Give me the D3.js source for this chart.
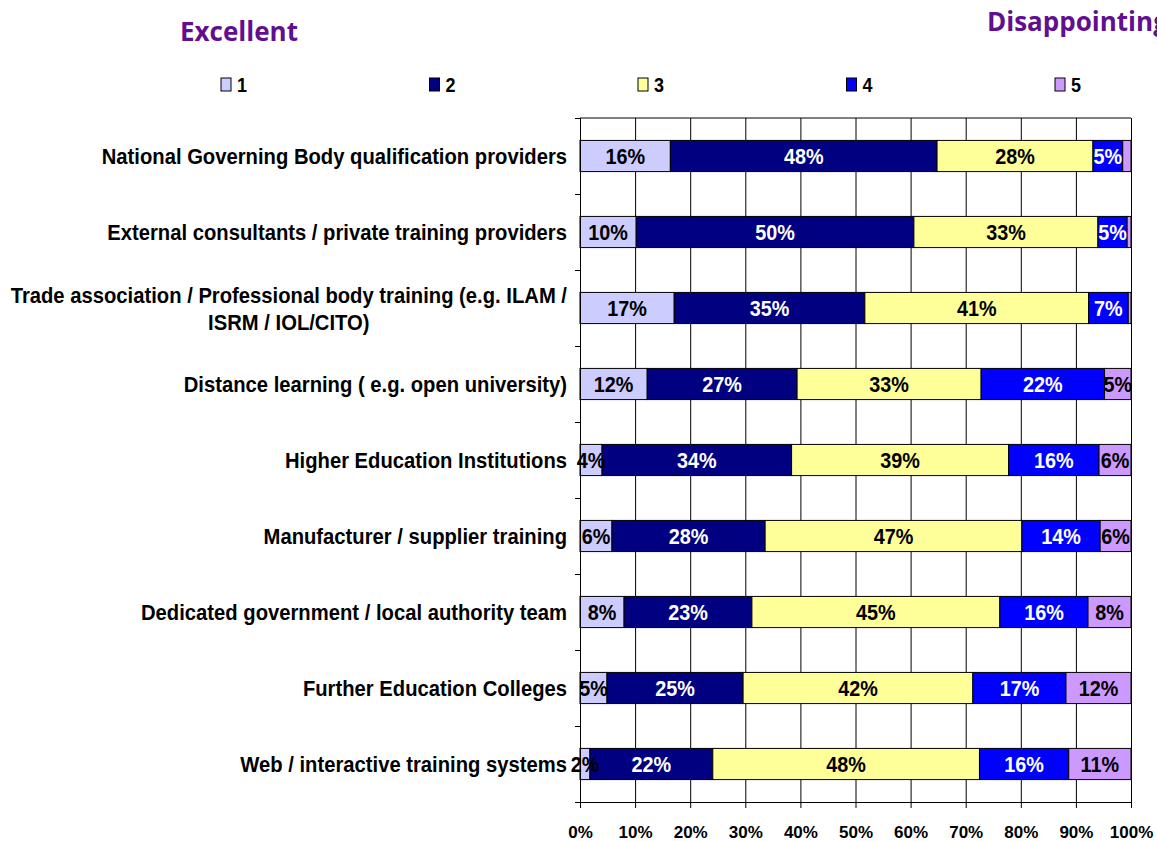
<!DOCTYPE html>
<html>
<head>
<meta charset="utf-8">
<script src="https://cdn.jsdelivr.net/npm/d3@7"></script>
<style>
  body { margin: 0; background: #fff; }
  svg text { font-family: "Liberation Sans", Arial, sans-serif; font-weight: bold; }
  svg text.title { font-family: "Open Sans", Lato, sans-serif; }
</style>
</head>
<body>
<div id="container"></div>
<script>
const categories = [
  "National Governing Body qualification providers",
  "External consultants / private training providers",
  "Trade association / Professional body training (e.g. ILAM / ISRM / IOL/CITO)",
  "Distance learning ( e.g. open university)",
  "Higher Education Institutions",
  "Manufacturer / supplier training",
  "Dedicated government / local authority team",
  "Further Education Colleges",
  "Web / interactive training systems"
];
const levels = ["1", "2", "3", "4", "5"];
const rating1 = [16.4, 10.2, 17.1, 12.2, 4.0, 5.8, 8.0, 4.9, 1.8];
const rating2 = [48.4, 50.4, 34.6, 27.2, 34.4, 27.8, 23.2, 24.7, 22.3];
const rating3 = [28.3, 33.4, 40.6, 33.4, 39.4, 46.6, 45.0, 41.7, 48.4];
const rating4 = [5.4, 5.3, 7.2, 22.4, 16.4, 14.2, 16.0, 16.9, 16.2];
const rating5 = [1.5, 0.7, 0.5, 4.8, 5.8, 5.6, 7.8, 11.8, 11.3];
const xTicks = [0, 10, 20, 30, 40, 50, 60, 70, 80, 90, 100];

const colors = ["#ccccff", "#000080", "#ffff99", "#0000ff", "#cc99ff"];
const labelColors = ["#000", "#fff", "#000", "#fff", "#000"];

const w = 1157, h = 841;
const plotLeft = 580, plotRight = 1131, plotTop = 118, plotBottom = 802;

const table = categories.map((c, i) => ({
  cat: c, "1": rating1[i], "2": rating2[i], "3": rating3[i], "4": rating4[i], "5": rating5[i]
}));
const series = d3.stack().keys(levels)(table);

const svg = d3.select("#container").append("svg")
  .attr("width", w).attr("height", h);

const x = d3.scaleLinear().domain([0, 100]).range([plotLeft, plotRight]);
const y = d3.scaleBand().domain(categories).range([plotTop, plotBottom])
  .paddingInner(0.59).paddingOuter(0.295);

// narrow bold text: a group placed at (px,py), squeezed sideways
function narrowText(parent, px, py, str, size, anchor, sq) {
  const t = parent.append("g")
    .attr("transform", "translate(" + px + "," + py + ") scale(" + sq + ",1)")
    .append("text")
    .attr("text-anchor", anchor)
    .attr("font-size", size)
    .text(str);
  return t;
}

// titles
svg.append("text").attr("class", "title").attr("x", 180).attr("y", 41)
  .attr("fill", "#5f0f8f").attr("font-size", 26).text("Excellent");
svg.append("text").attr("class", "title").attr("x", 987).attr("y", 31)
  .attr("fill", "#5f0f8f").attr("font-size", 26).text("Disappointing");

// legend
const legend = svg.append("g").selectAll("g").data(levels).enter().append("g")
  .attr("transform", (d, i) => "translate(" + (221 + i * 208.5) + ",78)");
legend.append("rect").attr("width", 10).attr("height", 13)
  .attr("fill", (d, i) => colors[i]).attr("stroke", "#000").attr("stroke-width", 1);
legend.each(function (d) { narrowText(d3.select(this), 16, 14, d, 20, "start", 0.9); });

// gridlines
svg.append("g")
  .attr("transform", "translate(0," + plotBottom + ")")
  .call(d3.axisBottom(x).tickValues(xTicks).tickSize(-(plotBottom - plotTop)).tickFormat(""))
  .call(g => g.select(".domain").remove())
  .call(g => g.selectAll("line").attr("stroke", "#000").attr("stroke-width", 1));
svg.append("line").attr("x1", plotLeft).attr("x2", plotRight).attr("y1", plotTop).attr("y2", plotTop)
  .attr("stroke", "#000");

// bars
const layer = svg.append("g").selectAll("g").data(series).enter().append("g")
  .attr("fill", (d, i) => colors[i]);
layer.selectAll("rect").data(d => d).enter().append("rect")
  .attr("x", d => x(d[0]))
  .attr("y", d => y(d.data.cat))
  .attr("width", d => x(d[1]) - x(d[0]))
  .attr("height", y.bandwidth())
  .attr("stroke", "#000").attr("stroke-width", 1);

// value labels
const valG = svg.append("g");
series.forEach((s, si) => {
  s.filter(d => d[1] - d[0] >= 1.7).forEach(d => {
    narrowText(valG, x((d[0] + d[1]) / 2), y(d.data.cat) + y.bandwidth() / 2 + 8,
      Math.round(d[1] - d[0]) + "%", 22, "middle", 0.9)
      .attr("fill", labelColors[si]);
  });
});

// y axis
const yEdge = d3.scaleLinear().domain([0, categories.length]).range([plotTop, plotBottom]);
svg.append("g").attr("transform", "translate(" + plotLeft + ",0)")
  .call(d3.axisLeft(yEdge).tickValues(d3.range(0, categories.length + 1)).tickSize(5).tickSizeOuter(0).tickFormat(""))
  .call(g => g.selectAll("line, path").attr("stroke", "#000"));

// category labels
const catG = svg.append("g");
const catSq = 0.92;
categories.forEach(c => {
  const cy = y(c) + y.bandwidth() / 2;
  if (c.indexOf("ILAM /") > 0) {
    const parts = ["Trade association / Professional body training (e.g. ILAM /", "ISRM / IOL/CITO)"];
    const t1 = narrowText(catG, 567, cy - 5, parts[0], 22, "end", catSq);
    const wid = t1.node().getComputedTextLength() * catSq;
    narrowText(catG, 567 - wid / 2, cy + 22, parts[1], 22, "middle", catSq);
  } else {
    narrowText(catG, 567, cy + 8, c, 22, "end", catSq);
  }
});

// x axis
svg.append("g").attr("transform", "translate(0," + plotBottom + ")")
  .call(d3.axisBottom(x).tickValues(xTicks).tickSize(6).tickPadding(18).tickFormat(d => d + "%"))
  .call(g => g.selectAll("line, path").attr("stroke", "#000"))
  .call(g => g.selectAll("text").attr("font-size", 17).attr("fill", "#000")
    .attr("font-family", "'Liberation Sans', Arial, sans-serif"));
</script>
</body>
</html>
